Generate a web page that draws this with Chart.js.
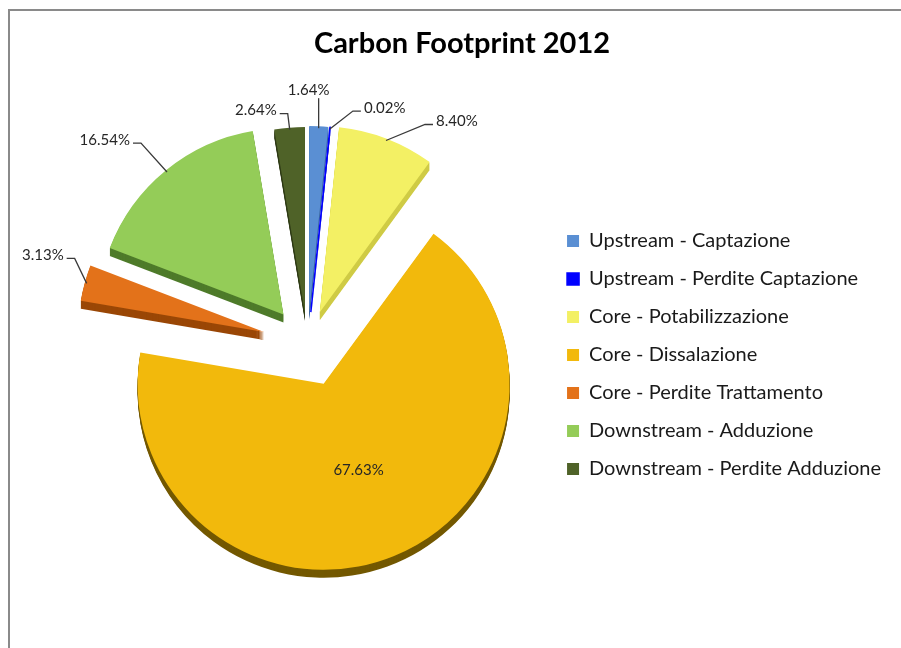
<!DOCTYPE html>
<html>
<head>
<meta charset="utf-8">
<title>Carbon Footprint 2012</title>
<script src="https://cdn.jsdelivr.net/npm/chart.js@4.4.1/dist/chart.umd.min.js"></script>
<style>
  html, body { margin: 0; padding: 0; background: #fff; overflow: hidden; }
  #frame {
    position: absolute; left: 8px; top: 9px; width: 1000px; height: 1000px;
    border-left: 2px solid #8a8a8a; border-top: 2px solid #8a8a8a;
  }
  #chart { position: absolute; left: 0; top: 0; }
</style>
</head>
<body>
<div id="frame"></div>
<canvas id="chart" width="901" height="648"></canvas>
<script>
const categories = [
  'Upstream - Captazione',
  'Upstream - Perdite Captazione',
  'Core - Potabilizzazione',
  'Core - Dissalazione',
  'Core - Perdite Trattamento',
  'Downstream - Adduzione',
  'Downstream - Perdite Adduzione'
];
const shares = [1.64, 0.02, 8.40, 67.63, 3.13, 16.54, 2.64];

const colors = ['#5a8fd3', '#0000ff', '#f3f064', '#f2b90c', '#e3721a', '#94cc58', '#4f6228'];
const sideColors = ['#3b67a2', '#0000b0', '#cfcb45', '#735800', '#9a4706', '#4e7b2a', '#2f3b16'];

// exploded distance of each slice and leader line elbows (px)
const explode = [32, 32, 34, 43, 45, 38, 31];
const leaders = [
  { dx: 0, dy: -30, side: 'top' },
  { dx: 23, dy: -18, side: 'right' },
  { dx: 39, dy: -16, side: 'right' },
  null,
  { dx: -12, dy: -25, side: 'left' },
  { dx: -26, dy: -29, side: 'left' },
  { dx: -2, dy: -16, side: 'left' }
];
const depth = 8;
const labelFont = '15px Lato';

const pieDecor = {
  id: 'pieDecor',
  afterLayout(chart) {
    // the title sits centred on the whole frame, not on pie + legend
    const t = chart.titleBlock;
    t.left = 9;
    t.right = 915;
  },
  beforeDatasetsDraw(chart) {
    const ctx = chart.ctx;
    const arcs = chart.getDatasetMeta(0).data;
    const geo = arcs.map((arc, i) => {
      const p = arc.getProps(['x', 'y', 'startAngle', 'endAngle', 'outerRadius'], true);
      const mid = (p.startAngle + p.endAngle) / 2;
      return { ...p, mid, cx: p.x + Math.cos(mid) * explode[i], cy: p.y + Math.sin(mid) * explode[i] };
    });

    // side walls
    geo.forEach((g, i) => {
      ctx.save();
      ctx.fillStyle = sideColors[i];
      for (let k = depth; k > 0; k--) {
        ctx.beginPath();
        ctx.moveTo(g.cx, g.cy + k);
        ctx.arc(g.cx, g.cy + k, g.outerRadius, g.startAngle, g.endAngle);
        ctx.closePath();
        ctx.fill();
      }
      ctx.restore();
    });

    // top faces
    arcs.forEach((arc, i) => {
      ctx.save();
      ctx.translate(geo[i].cx - geo[i].x, geo[i].cy - geo[i].y);
      arc.draw(ctx);
      ctx.restore();
    });

    // labels
    ctx.save();
    ctx.font = labelFont;
    ctx.fillStyle = '#262626';
    ctx.strokeStyle = '#3a3a3a';
    ctx.lineWidth = 1.3;
    geo.forEach((g, i) => {
      const text = shares[i].toFixed(2) + '%';
      const lead = leaders[i];
      if (!lead) {
        ctx.textAlign = 'center';
        ctx.textBaseline = 'middle';
        ctx.fillText(text, g.cx + Math.cos(g.mid) * g.outerRadius * 0.5, g.cy + Math.sin(g.mid) * g.outerRadius * 0.5);
        return;
      }
      const px = g.cx + Math.cos(g.mid) * (g.outerRadius - 2);
      const py = g.cy + Math.sin(g.mid) * (g.outerRadius - 2);
      const ex = px + lead.dx;
      const ey = py + lead.dy;
      ctx.beginPath();
      ctx.moveTo(px, py);
      ctx.lineTo(ex, ey);
      if (lead.side === 'top') {
        ctx.stroke();
        ctx.textAlign = 'center';
        ctx.textBaseline = 'bottom';
        ctx.fillText(text, ex - 10, ey - 1);
      } else {
        const dir = lead.side === 'right' ? 1 : -1;
        ctx.lineTo(ex + dir * 8, ey);
        ctx.stroke();
        ctx.textAlign = dir > 0 ? 'left' : 'right';
        ctx.textBaseline = 'middle';
        ctx.fillText(text, ex + dir * 11, ey - 3);
      }
    });
    ctx.restore();
    return false;
  }
};

new Chart(document.querySelector('#chart'), {
  type: 'pie',
  data: {
    labels: categories,
    datasets: [{
      data: shares,
      backgroundColor: colors,
      borderColor: '#0000ff',
      borderWidth: [0, 1.5, 0, 0, 0, 0, 0],
      radius: 186
    }]
  },
  options: {
    responsive: false,
    animation: false,
    layout: { padding: { top: 19, bottom: 27, left: 66, right: 10 } },
    plugins: {
      title: {
        display: true,
        text: 'Carbon Footprint 2012',
        color: '#000',
        font: { family: 'Lato', size: 29, weight: 'bold' },
        padding: { top: 7, bottom: 6 }
      },
      legend: {
        position: 'right',
        fullSize: false,
        title: { display: true, text: '', font: { size: 10 }, padding: { top: 5, bottom: 5 } },
        labels: {
          boxWidth: 12,
          boxHeight: 12,
          padding: 18,
          color: '#1a1a1a',
          font: { family: 'Lato', size: 20 }
        }
      },
      tooltip: { enabled: false }
    }
  },
  plugins: [pieDecor]
});
</script>
</body>
</html>
